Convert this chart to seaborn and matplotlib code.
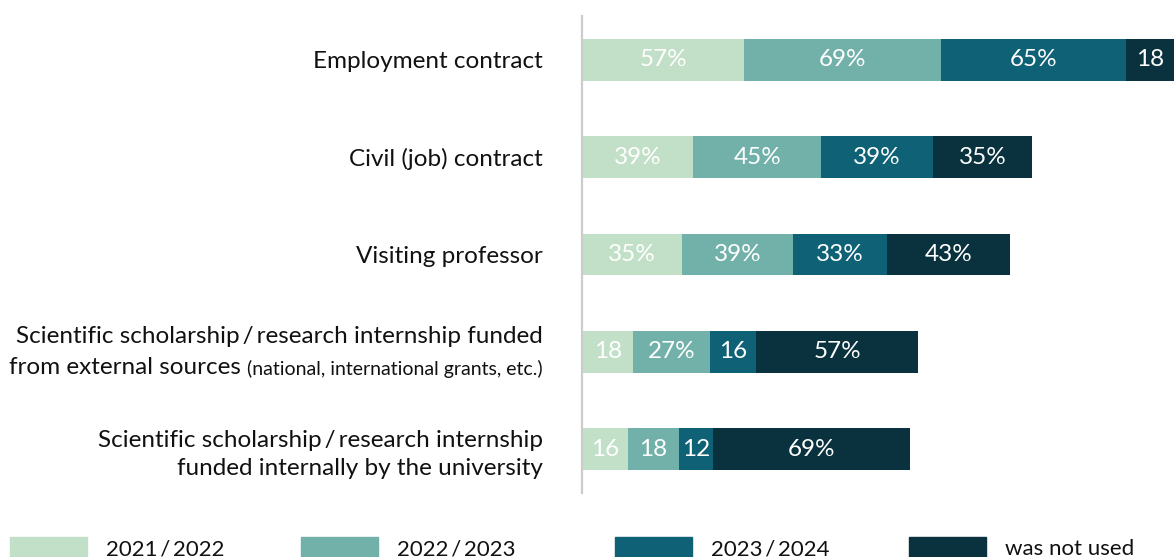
import numpy as np
import pandas as pd
import seaborn as sns
import matplotlib.pyplot as plt
from matplotlib.patches import Rectangle

# data
categories = [
    "Employment contract",
    "Civil (job) contract",
    "Visiting professor",
    "external",
    "Scientific scholarship\u2009/\u2009research internship\nfunded internally by the university",
]
series = ["2021\u2009/\u20092022", "2022\u2009/\u20092023", "2023\u2009/\u20092024", "was not used"]
v_2021 = [57, 39, 35, 18, 16]
v_2022 = [69, 45, 39, 27, 18]
v_2023 = [65, 39, 33, 16, 12]
v_notused = [18, 35, 43, 57, 69]
colors = ["#c2e0c8", "#72b1a9", "#0f6175", "#0a323e"]

sns.set_theme(style="white")
plt.rcParams["font.family"] = ["Lato", "DejaVu Sans"]

FS = 17.5
fig = plt.figure(figsize=(11.74, 5.57), dpi=100)
ax = fig.add_axes([582 / 1174, (557 - 493) / 557, 1 - 582 / 1174, 477 / 557])

df = pd.DataFrame({"category": categories})
left = np.zeros(len(categories))
for name, vals, color in zip(series, [v_2021, v_2022, v_2023, v_notused], colors):
    df[name] = vals
    sns.barplot(
        data=df, y="category", x=name, orient="h", color=color,
        width=0.43, left=left, saturation=1, ax=ax, linewidth=0,
    )
    left = left + np.array(vals)

# value labels, "%" only where the segment is wide enough
for cont, vals in zip(ax.containers, [v_2021, v_2022, v_2023, v_notused]):
    labels = [f"{v}%" if v >= 20 else f"{v}" for v in vals]
    ax.bar_label(cont, labels=labels, label_type="center", color="white",
                 fontsize=FS, fontweight="normal")

ax.set_xlim(0, 207.7)
ax.set_ylim(4.45, -0.45)
ax.set_xlabel("")
ax.set_ylabel("")
ax.set_xticks([])
ax.set_yticks(range(len(categories)))
ax.set_yticklabels([c if c != "external" else "" for c in categories],
                   fontsize=FS, color="#111111", linespacing=1.4)
ax.tick_params(axis="y", length=0, pad=28)
sns.despine(ax=ax, left=False, bottom=True)
ax.spines["left"].set_color("#cccccc")
ax.spines["left"].set_linewidth(1.6)

# mixed-size label for the external sources row
ax.annotate("Scientific scholarship\u2009/\u2009research internship funded", xy=(0, 3),
            xytext=(-28, 11), textcoords="offset points", ha="right", va="center",
            fontsize=FS, color="#111111")
small = ax.annotate("(national, international grants, etc.)", xy=(0, 3),
                    xytext=(-28, -12), textcoords="offset points", ha="right",
                    va="center", fontsize=14, color="#111111")
ax.annotate("from external sources ", xy=(0, 0), xycoords=small, ha="right",
            va="bottom", fontsize=FS, color="#111111")

# legend along the bottom
leg_x = [10, 301, 615, 909]
for x0, name, color in zip(leg_x, series, colors):
    fig.patches.append(Rectangle((x0 / 1174, -0.02), 77 / 1174, 20 / 557 + 0.02,
                                 transform=fig.transFigure, color=color))
    fig.text((x0 + 96) / 1174, 2 / 557, name, fontsize=16, color="#111111",
             va="baseline", ha="left")

fig.savefig("out.png", dpi=100)
